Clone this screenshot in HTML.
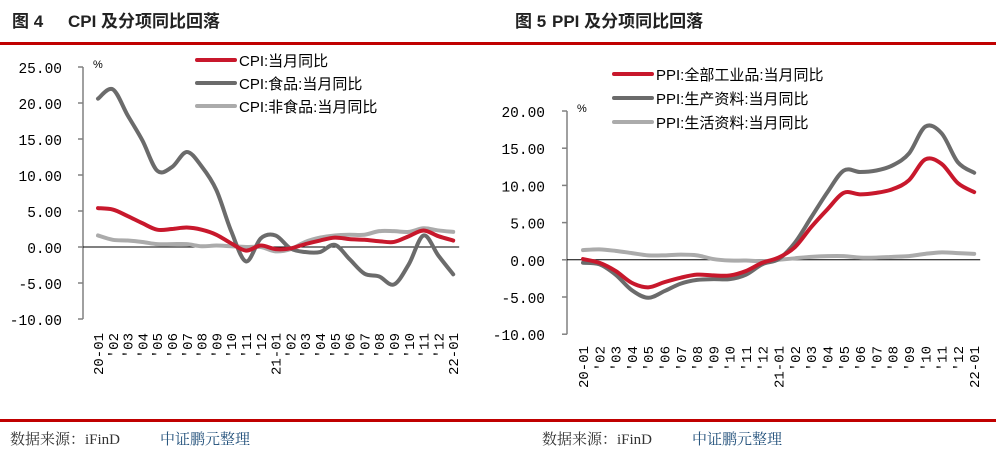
<!DOCTYPE html>
<html><head><meta charset="utf-8"><style>
body{margin:0;background:#fff;width:996px;height:457px;overflow:hidden;position:relative;font-family:"Liberation Sans","Noto Sans CJK SC",sans-serif}
</style></head><body>
<svg id="s" width="996" height="457" xmlns="http://www.w3.org/2000/svg" style="position:absolute;left:0;top:0">
<text x="12" y="27" font-family="Liberation Sans,Noto Sans CJK SC,sans-serif" font-weight="bold" font-size="17" fill="#222">图 4<tspan x="68">CPI 及分项同比回落</tspan></text>
<text x="515" y="27" font-family="Liberation Sans,Noto Sans CJK SC,sans-serif" font-weight="bold" font-size="17" fill="#222">图 5<tspan x="552">PPI 及分项同比回落</tspan></text>
<rect x="0" y="42" width="996" height="3" fill="#c00000"/>
<rect x="0" y="419" width="996" height="3" fill="#c00000"/>
<text x="10" y="444" font-family="Liberation Serif,Noto Serif CJK SC,serif" font-size="15" fill="#333">数据来源：iFinD<tspan x="160" fill="#1f4e79">中证鹏元整理</tspan></text>
<text x="542" y="444" font-family="Liberation Serif,Noto Serif CJK SC,serif" font-size="15" fill="#333">数据来源：iFinD<tspan x="692" fill="#1f4e79">中证鹏元整理</tspan></text>
<g id="g"></g>
</svg>
<script>
var g=document.getElementById('g'),h='';
var labs=['20-01',"'02","'03","'04","'05","'06","'07","'08","'09","'10","'11","'12",'21-01',"'02","'03","'04","'05","'06","'07","'08","'09","'10","'11","'12",'22-01'];
function path(d,x0,dx,y0,k){var p=d.map(function(v,i){return[x0+i*dx,y0-v*k]});var s='M'+p[0][0]+','+p[0][1];
for(var i=0;i<p.length-1;i++){var a=p[i-1]||p[i],b=p[i],c=p[i+1],e=p[i+2]||c;
s+=' C'+(b[0]+(c[0]-a[0])/6)+','+(b[1]+(c[1]-a[1])/6)+' '+(c[0]-(e[0]-b[0])/6)+','+(c[1]-(e[1]-b[1])/6)+' '+c[0]+','+c[1];}return s;}
function chart(o){var ax=o.ax;
h+='<line x1="'+ax+'" y1="'+o.y0+'" x2="'+ax+'" y2="'+(o.y0+(o.max-o.min)/5*o.step)+'" stroke="#808080" stroke-width="1.5"/>';
for(var v=o.max,j=0;v>=o.min;v-=5,j++){var y=o.y0+j*o.step;
h+='<line x1="'+(ax-5)+'" y1="'+y+'" x2="'+ax+'" y2="'+y+'" stroke="#808080" stroke-width="1.5"/>';
h+='<text x="'+o.lx+'" y="'+(y+6)+'" text-anchor="end" font-family="Liberation Mono,monospace" font-size="14.5" fill="#000">'+v.toFixed(2)+'</text>';}
var zy=o.y0+o.max/5*o.step,k=o.step/5;
h+='<line x1="'+ax+'" y1="'+zy+'" x2="'+(o.x0+24*o.dx+6)+'" y2="'+zy+'" stroke="#000" stroke-width="1"/>';
h+='<text x="'+(ax+10)+'" y="'+(o.y0+1)+'" font-family="Liberation Sans,sans-serif" font-size="11">%</text>';
for(var i=0;i<25;i++){var x=o.x0+i*o.dx+5;
h+='<text transform="translate('+x+','+o.ly+') rotate(-90)" text-anchor="end" font-family="Liberation Mono,monospace" font-size="14" fill="#000">'+labs[i]+'</text>';}
var cols=['#c8182c','#6b6b6b','#ababab'];
for(var s=2;s>=0;s--)h+='<path d="'+path(o.d[s],o.x0,o.dx,zy,k)+'" fill="none" stroke="'+cols[s]+'" stroke-width="4" stroke-linecap="round"/>';
for(var s=0;s<3;s++){var y=o.legy+s*o.legdy;
h+='<line x1="'+o.legx+'" y1="'+y+'" x2="'+(o.legx+38)+'" y2="'+y+'" stroke="'+cols[s]+'" stroke-width="4" stroke-linecap="round"/>';
h+='<text x="'+(o.legx+42)+'" y="'+(y+6)+'" font-family="Liberation Sans,Noto Sans CJK SC,sans-serif" font-size="15" fill="#000">'+o.leg[s]+'</text>';}}
chart({ax:83,y0:67,step:36,max:25,min:-10,lx:62,x0:98,dx:14.8,ly:333,legx:197,legy:60,legdy:23,
leg:['CPI:当月同比','CPI:食品:当月同比','CPI:非食品:当月同比'],
d:[[5.4,5.2,4.3,3.3,2.4,2.5,2.7,2.4,1.7,0.5,-0.5,0.2,-0.3,-0.2,0.4,0.9,1.3,1.1,1.0,0.8,0.7,1.5,2.3,1.5,0.9],
[20.6,21.9,18.3,14.8,10.6,11.1,13.2,11.2,7.9,2.2,-2.0,1.2,1.6,-0.2,-0.7,-0.7,0.3,-1.7,-3.7,-4.1,-5.2,-2.4,1.6,-1.2,-3.8],
[1.6,1.0,0.9,0.7,0.4,0.4,0.4,0.1,0.2,0.1,0.0,0.0,-0.6,-0.3,0.7,1.3,1.6,1.7,1.7,2.2,2.2,2.1,2.6,2.3,2.1]]});
chart({ax:567,y0:111,step:37.2,max:20,min:-10,lx:545,x0:583,dx:16.3,ly:346,legx:614,legy:74,legdy:24,
leg:['PPI:全部工业品:当月同比','PPI:生产资料:当月同比','PPI:生活资料:当月同比'],
d:[[0.1,-0.4,-1.5,-3.1,-3.7,-3.0,-2.4,-2.0,-2.1,-2.1,-1.5,-0.4,0.3,1.7,4.4,6.8,9.0,8.8,9.0,9.5,10.7,13.5,12.9,10.3,9.1],
[-0.4,-0.6,-2.0,-4.1,-5.1,-4.2,-3.2,-2.7,-2.6,-2.6,-2.0,-0.6,0.1,2.3,5.7,9.1,12.0,11.8,12.0,12.7,14.3,17.9,17.0,13.1,11.7],
[1.3,1.4,1.2,0.9,0.6,0.6,0.7,0.6,0.1,-0.1,-0.1,-0.2,0.0,0.2,0.4,0.5,0.5,0.3,0.3,0.4,0.5,0.8,1.0,0.9,0.8]]});
g.innerHTML=h;
</script>
</body></html>
